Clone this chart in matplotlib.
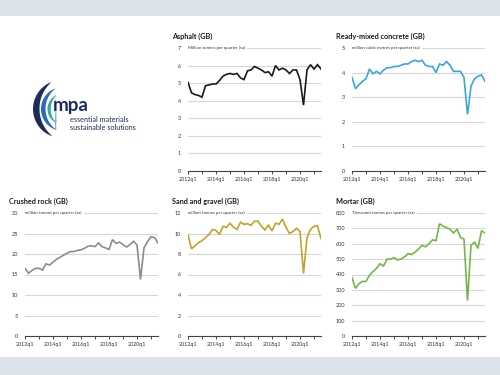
import numpy as np
import matplotlib
matplotlib.use("Agg")
import matplotlib.pyplot as plt
from matplotlib.patches import Rectangle, Polygon

plt.rcParams['font.family'] = ['Lato', 'DejaVu Sans']

# ---------------- data (quarterly, 2012q1 .. 2021q3) ----------------
quarters = [f"{y}q{q}" for y in range(2012, 2022) for q in range(1, 5)][:39]

asphalt = [5.05, 4.45, 4.35, 4.3, 4.2, 4.85, 4.9, 4.95, 4.95, 5.15,
           5.4, 5.5, 5.55, 5.5, 5.55, 5.3, 5.2, 5.7, 5.75, 5.95,
           5.85, 5.75, 5.6, 5.65, 5.4, 6.0, 5.75, 5.85, 5.75, 5.55,
           5.75, 5.75, 5.2, 3.75, 5.75, 6.05, 5.8, 6.05, 5.8]

concrete = [3.8, 3.35, 3.5, 3.65, 3.75, 4.15, 3.95, 4.05, 3.95, 4.1,
            4.2, 4.2, 4.25, 4.25, 4.3, 4.35, 4.35, 4.45, 4.5, 4.45,
            4.5, 4.3, 4.25, 4.25, 4.0, 4.35, 4.3, 4.45, 4.3, 4.05,
            4.05, 4.05, 3.8, 2.3, 3.45, 3.75, 3.85, 3.9, 3.65]

crushed = [16.5, 15.3, 16.0, 16.5, 16.5, 16.1, 17.6, 17.3, 18.0, 18.7,
           19.2, 19.7, 20.2, 20.6, 20.6, 20.9, 21.0, 21.4, 21.9, 22.0,
           21.8, 22.7, 21.8, 21.5, 21.1, 23.5, 22.6, 22.9, 22.3, 21.7,
           22.3, 23.1, 22.2, 13.8, 21.5, 23.0, 24.2, 24.0, 22.7]

sand = [9.9, 8.5, 8.8, 9.1, 9.3, 9.6, 9.9, 10.4, 10.3, 9.9,
        10.7, 10.6, 11.0, 10.6, 10.4, 11.1, 10.9, 10.95, 10.8, 11.2,
        11.2, 10.7, 10.35, 10.85, 10.25, 11.0, 10.9, 11.4, 10.6, 10.0,
        10.2, 10.5, 10.2, 6.1, 9.6, 10.4, 10.7, 10.75, 9.5]

mortar = [380, 310, 340, 355, 355, 395, 420, 440, 470, 455,
          500, 500, 510, 495, 500, 515, 535, 530, 545, 565,
          590, 580, 600, 625, 620, 730, 715, 705, 695, 670,
          695, 640, 630, 230, 590, 610, 570, 685, 670]

titles = ["Asphalt (GB)", "Ready-mixed concrete (GB)", "Crushed rock (GB)",
          "Sand and gravel (GB)", "Mortar (GB)"]
units = ["Million tonnes per quarter (sa)", "million cubic metres per quarter (sa)",
         "million tonnes per quarter (sa)", "million tonnes per quarter (sa)",
         "Thousand tonnes per quarter (sa)"]
series = [asphalt, concrete, crushed, sand, mortar]
yticks = [list(range(0, 8, 1)), list(range(0, 6, 1)), list(range(0, 31, 5)),
          list(range(0, 13, 2)), list(range(0, 801, 100))]
colors = ["#1a1a1a", "#35a8e0", "#8c8c8c", "#c4a32a", "#74b746"]
xlabel_ticks = ["2012q1", "2014q1", "2016q1", "2018q1", "2020q1"]

# ---------------- figure ----------------
W, H = 500, 375
fig = plt.figure(figsize=(5, 3.75), dpi=100)
fig.patch.set_facecolor("white")
fig.patches.append(Rectangle((0, 1 - 16 / H), 1, 16 / H, transform=fig.transFigure,
                             facecolor="#dde3ea", edgecolor="none", zorder=0))
fig.patches.append(Rectangle((0, 0), 1, 18 / H, transform=fig.transFigure,
                             facecolor="#dde3ea", edgecolor="none", zorder=0))

# panel positions in pixels: (left, top)
pos = [(188, 48), (352, 48), (25, 213), (188, 213), (352, 213)]
aw, ah = 133, 123
x = np.arange(len(quarters))
for i, (lp, tp) in enumerate(pos):
    ax = fig.add_axes([lp / W, 1 - (tp + ah) / H, aw / W, ah / H])
    yt = yticks[i]
    ax.set_ylim(0, yt[-1])
    ax.set_xlim(0, len(quarters) - 1)
    ax.set_yticks(yt)
    ax.set_yticklabels([str(v) for v in yt], fontsize=4.0, color="#333333")
    ax.grid(axis="y", color="#d6d6d6", linewidth=0.8)
    ax.set_axisbelow(True)
    for s in ["top", "right", "left"]:
        ax.spines[s].set_visible(False)
    ax.spines["bottom"].set_color("#444444")
    ax.spines["bottom"].set_linewidth(0.8)
    ax.tick_params(axis="y", length=0, pad=5)
    major = [quarters.index(q) for q in xlabel_ticks]
    minor = [quarters.index(f"{y}q1") for y in range(2013, 2022, 2)]
    ax.set_xticks(major)
    ax.set_xticklabels(xlabel_ticks, fontsize=3.9, color="#333333")
    ax.set_xticks(minor, minor=True)
    ax.tick_params(axis="x", which="both", length=2.5, width=0.7, color="#444444", pad=1.5)
    ax.plot(x, series[i], color=colors[i], linewidth=1.2, solid_joinstyle="miter", zorder=3)
    ax.text(0.0, 1.0, units[i], transform=ax.transAxes, fontsize=3.2, color="#333333",
            va="center", ha="left",
            bbox=dict(facecolor="white", edgecolor="none", pad=1.5), zorder=4)
    fig.text((lp - 16) / W, 1 - (tp - 12) / H, titles[i], fontsize=5.2, fontweight="bold",
             color="#1a1a1a", ha="left", va="center")

# ---------------- logo ----------------
lax = fig.add_axes([25 / W, 1 - 140 / H, 120 / W, 60 / H])
lax.set_xlim(25, 145)
lax.set_ylim(H - 140, H - 80)
lax.axis("off")


def crescent(cx, cy, r, th1, th2, tmax, color):
    th = np.linspace(np.radians(th1), np.radians(th2), 60)
    mid = (th[0] + th[-1]) / 2
    half = (th[-1] - th[0]) / 2
    t = tmax * np.cos((th - mid) / half * np.pi / 2) ** 0.8
    outer = np.column_stack([cx + r * np.cos(th), cy + r * np.sin(th)])
    inner = np.column_stack([cx + (r - t) * np.cos(th), cy + (r - t) * np.sin(th)])[::-1]
    lax.add_patch(Polygon(np.vstack([outer, inner]), closed=True, facecolor=color,
                          edgecolor="none"))


cy = H - 109
crescent(62, cy, 29, 112, 250, 6.5, "#1e2b5e")
crescent(63, cy, 22, 110, 252, 4.5, "#2c6cb3")
crescent(63, cy, 15.5, 115, 245, 3.2, "#3aa69c")
lax.text(53, H - 111, "mpa", fontsize=13.5, fontweight="bold", color="#1e2b5e",
         ha="left", va="baseline")
lax.text(70, H - 120, "essential materials", fontsize=5.2, color="#1e2b5e",
         ha="left", va="center")
lax.text(70, H - 128, "sustainable solutions", fontsize=5.2, color="#1e2b5e",
         ha="left", va="center")

fig.savefig("out.png", dpi=100)
